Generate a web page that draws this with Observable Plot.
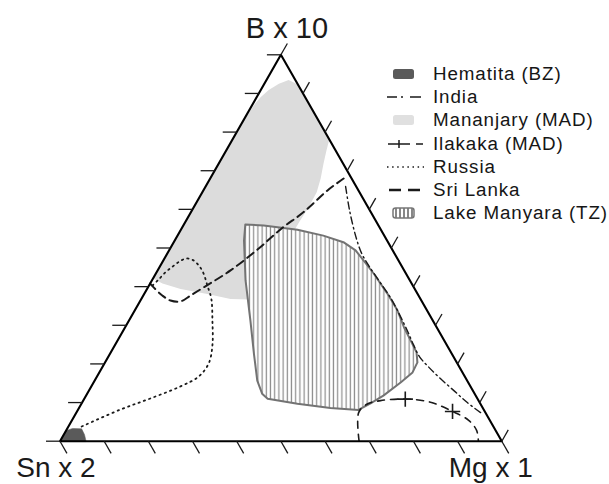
<!DOCTYPE html>
<html>
<head>
<meta charset="utf-8">
<script src="https://cdn.jsdelivr.net/npm/d3@7"></script>
<script src="https://cdn.jsdelivr.net/npm/@observablehq/plot@0.6"></script>
<style>
  html, body { margin: 0; padding: 0; background: #fff; }
  #chart { position: relative; width: 609px; height: 484px; font-family: "Liberation Sans", Arial, sans-serif; }
  #legend { position: absolute; left: 386px; top: 62px; }
  .row { display: flex; align-items: center; height: 23.3px; }
  .row svg { width: 38px; height: 16px; margin-right: 9px; flex: none; }
  .row span { font-size: 18.8px; letter-spacing: 0.9px; color: #161616; white-space: nowrap; }
</style>
</head>
<body>
<div id="chart"><div id="legend"></div></div>
<script>
// Compositions are [Sn x 2, B x 10, Mg x 1] in percent (each row sums to 100).
const vertexLabels = ["Sn x 2", "B x 10", "Mg x 1"];
const tickSteps = [0, 10, 20, 30, 40, 50, 60, 70, 80, 90, 100];

const hematita = [
  [100, 0, 0], [97.1, 2.8, 0.1], [95.5, 3.3, 1.2], [93.5, 3.2, 3.3], [93.6, 1.7, 4.7], [94.1, 0, 5.9]
];

const mananjary = [
  [1.5, 93.5, 5.0], [0, 92.3, 7.7], [0, 78.1, 21.9], [2.1, 75.2, 22.7], [4.4, 71.9, 23.7],
  [7.0, 68.0, 25.0], [9.7, 64.4, 25.9], [13.5, 60.5, 26.0], [17.3, 56.9, 25.8], [23.7, 50.6, 25.7],
  [32.0, 42.9, 25.1], [38.5, 36.7, 24.8], [43.0, 36.8, 20.2], [47.6, 38.1, 14.3], [53.0, 39.4, 7.6],
  [56.4, 40.8, 2.8], [57.9, 42.1, 0], [17.0, 83.0, 0], [15.5, 84.3, 0.2], [12.7, 86.9, 0.4],
  [10.1, 89.0, 0.9], [7.3, 90.9, 1.8], [4.2, 92.5, 3.3]
];

const lakeManyara = [
  [30.0, 56.1, 13.9], [26.0, 55.8, 18.2], [18.9, 54.7, 26.4], [13.8, 53.2, 33.0], [10.1, 51.5, 38.4],
  [8.4, 49.4, 42.2], [7.9, 46.8, 45.3], [7.3, 43.4, 49.3], [6.8, 38.2, 55.0], [6.7, 33.8, 59.5],
  [7.4, 29.5, 63.1], [7.6, 26.1, 66.3], [7.8, 23.0, 69.2], [8.9, 20.4, 70.7], [11.3, 17.8, 70.9],
  [15.3, 15.2, 69.5], [20.9, 11.8, 67.3], [24.8, 9.8, 65.4], [28.4, 8.1, 63.5], [34.5, 8.6, 56.9],
  [41.4, 9.7, 48.9], [47.5, 11.0, 41.5], [48.1, 12.3, 39.6], [47.5, 15.7, 36.8], [44.8, 22.6, 32.6],
  [41.3, 31.2, 27.5], [37.2, 41.6, 21.2], [32.4, 51.9, 15.7]
];

const india = [
  [2.4, 65.9, 31.7], [4.6, 59.7, 35.7], [6.5, 53.2, 40.3], [7.4, 48.8, 43.8], [7.4, 45.5, 47.1],
  [7.0, 41.3, 51.7], [6.6, 36.7, 56.7], [6.8, 32.3, 60.9], [7.1, 28.4, 64.5], [7.5, 25.0, 67.5],
  [7.7, 21.9, 70.4], [7.0, 19.3, 73.7], [5.8, 16.2, 78.0], [4.2, 12.9, 82.9], [2.8, 10.0, 87.2],
  [1.1, 7.4, 91.5]
];

const ilakaka = [
  [32.3, 0, 67.7], [28.7, 7.4, 63.9], [25.9, 9.5, 64.6], [22.2, 10.5, 67.3], [16.4, 10.9, 72.7],
  [11.1, 10.1, 78.8], [7.3, 7.7, 85.0], [4.8, 5.4, 89.8], [4.3, 2.8, 92.9], [5.3, 0, 94.7]
];
const ilakakaCrosses = [[16.4, 10.9, 72.7], [7.3, 7.7, 85.0]];

const russia = [
  [93.2, 3.8, 3.0], [82.2, 8.2, 9.6], [73.9, 11.1, 15.0], [65.6, 14.2, 20.2], [60.3, 16.7, 23.0],
  [56.3, 20.1, 23.6], [53.1, 24.8, 22.1], [49.9, 31.2, 18.9], [47.3, 36.9, 15.8], [46.5, 40.3, 13.2],
  [45.8, 43.4, 10.8], [45.8, 45.2, 9.0], [46.4, 46.8, 6.8], [47.7, 47.3, 5.0], [49.7, 46.5, 3.8],
  [51.9, 45.2, 2.9], [54.3, 43.7, 2.0], [56.8, 41.8, 1.4], [58.9, 40.3, 0.8]
];

const sriLanka = [
  [1.8, 68.0, 30.2], [7.0, 64.9, 28.1], [15.2, 59.3, 25.5], [22.4, 55.0, 22.6], [30.5, 49.6, 19.9],
  [39.3, 44.2, 16.5], [47.6, 39.8, 12.6], [51.6, 37.7, 10.7], [54.6, 36.2, 9.2], [56.8, 36.4, 6.8],
  [58.0, 37.7, 4.3], [58.9, 39.8, 1.3], [59.2, 40.8, 0]
];

// Ternary -> cartesian: x runs from the Sn corner (0) to the Mg corner (1), y is the B share.
const X = d => (d[2] + d[1] / 2) / 100;
const Y = d => d[1] / 100;

// Pixel extent of the triangle on the page.
const xRange = [59.5, 501.3];
const yRange = [440.7, 54.3];
const W = xRange[1] - xRange[0];
const H = yRange[0] - yRange[1];
const slant = Math.hypot(W / 2, H);

// Outward tick directions, expressed in data units for a given pixel length.
function ticksFor(side, len) {
  return tickSteps.map(t => {
    let p, dx, dy;
    if (side === "left") {        // Sn–B edge, ticks parallel to the base, pointing left
      p = [100 - t, t, 0]; dx = -len / W; dy = 0;
    } else if (side === "right") { // B–Mg edge, ticks parallel to Sn→B
      p = [0, t, 100 - t]; dx = 0.5 * len / slant; dy = len / slant;
    } else {                       // Sn–Mg base, ticks parallel to B→Mg
      p = [100 - t, 0, t]; dx = 0.5 * len / slant; dy = -len / slant;
    }
    const x1 = X(p), y1 = Y(p);
    return {x1, y1, x2: x1 + dx, y2: y1 + dy};
  });
}
const ticks = [...ticksFor("left", 14), ...ticksFor("right", 13), ...ticksFor("bottom", 14)];

const corners = [[100, 0, 0], [0, 100, 0], [0, 0, 100]];
const font = "Liberation Sans, Arial, sans-serif";
const ink = "#1a1a1a";

const svg = Plot.plot({
  width: 609,
  height: 484,
  margin: 0,
  x: {domain: [0, 1], range: xRange, axis: null},
  y: {domain: [0, 1], range: yRange, axis: null},
  marks: [
    Plot.line(mananjary, {x: X, y: Y, curve: "linear-closed", fill: "#dcdcdc", stroke: "none"}),
    Plot.line(hematita, {x: X, y: Y, curve: "linear-closed", fill: "#5a5a5a", stroke: "#5a5a5a", strokeWidth: 0.5}),
    Plot.line(lakeManyara, {x: X, y: Y, curve: "linear-closed", fill: "url(#vhatch)", stroke: "#737373", strokeWidth: 2}),
    Plot.line(russia, {x: X, y: Y, curve: "catmull-rom", stroke: ink, strokeWidth: 1.8, strokeDasharray: "1.4,4.2", strokeLinecap: "round"}),
    Plot.line(sriLanka, {x: X, y: Y, curve: "catmull-rom", stroke: ink, strokeWidth: 2, strokeDasharray: "8,5"}),
    Plot.line(india, {x: X, y: Y, curve: "catmull-rom", stroke: ink, strokeWidth: 1.4, strokeDasharray: "7,3.5,1.5,3.5"}),
    Plot.line(ilakaka, {x: X, y: Y, curve: "catmull-rom", stroke: ink, strokeWidth: 1.6, strokeDasharray: "7,6"}),
    Plot.dot(ilakakaCrosses, {x: X, y: Y, symbol: "plus", r: 5, stroke: ink, strokeWidth: 1.6}),
    Plot.line(corners, {x: X, y: Y, curve: "linear-closed", stroke: "#000", strokeWidth: 2.1, fill: "none"}),
    Plot.link(ticks, {x1: "x1", y1: "y1", x2: "x2", y2: "y2", stroke: ink, strokeWidth: 1.3}),
    Plot.text([{p: corners[1], label: vertexLabels[1]}], {x: d => X(d.p), y: d => Y(d.p), text: "label", dx: 6, dy: -17, lineAnchor: "bottom", fontSize: 29, fontFamily: font, fill: ink}),
    Plot.text([{p: corners[0], label: vertexLabels[0]}], {x: d => X(d.p), y: d => Y(d.p), text: "label", dx: -4, dy: 36, lineAnchor: "bottom", fontSize: 28, fontFamily: font, fill: ink}),
    Plot.text([{p: corners[2], label: vertexLabels[2]}], {x: d => X(d.p), y: d => Y(d.p), text: "label", dx: -11, dy: 36, lineAnchor: "bottom", fontSize: 28, fontFamily: font, fill: ink})
  ]
});

// Vertical hatch used for the Lake Manyara field.
const defs = document.createElementNS("http://www.w3.org/2000/svg", "defs");
defs.innerHTML =
  '<pattern id="vhatch" patternUnits="userSpaceOnUse" width="4.2" height="10">' +
  '<rect width="4.2" height="10" fill="#fff"/>' +
  '<line x1="1.2" y1="0" x2="1.2" y2="10" stroke="#8a8a8a" stroke-width="1.2"/></pattern>' +
  '<pattern id="vhatchKey" patternUnits="userSpaceOnUse" width="4" height="10">' +
  '<rect width="4" height="10" fill="#fff"/>' +
  '<line x1="2" y1="0" x2="2" y2="10" stroke="#555" stroke-width="1.4"/></pattern>';
svg.prepend(defs);
document.getElementById("chart").prepend(svg);

// Legend
const legendItems = [
  {label: "Hematita (BZ)", key: '<rect x="7" y="3" width="21" height="10" rx="2.5" fill="#5a5a5a"/>'},
  {label: "India", key: '<path d="M1,8H11M15,8H17M24,8H35" stroke="#1a1a1a" stroke-width="1.5" fill="none"/>'},
  {label: "Mananjary (MAD)", key: '<rect x="7" y="3" width="21" height="10" rx="2.5" fill="#e0e0e0"/>'},
  {label: "Ilakaka (MAD)", key: '<path d="M2,8H24M13,4V12M30,8H37" stroke="#1a1a1a" stroke-width="1.5" fill="none"/>'},
  {label: "Russia", key: '<path d="M1,8H38" stroke="#1a1a1a" stroke-width="1.5" stroke-dasharray="1.5,3.6" fill="none"/>'},
  {label: "Sri Lanka", key: '<path d="M3,8H15M22,8H34" stroke="#1a1a1a" stroke-width="2.6" fill="none"/>'},
  {label: "Lake Manyara (TZ)", key: '<rect x="7" y="3" width="21" height="10" rx="2.5" fill="url(#vhatchKey)" stroke="#777" stroke-width="1.5"/>'}
];
const legend = document.getElementById("legend");
for (const item of legendItems) {
  const row = document.createElement("div");
  row.className = "row";
  row.innerHTML = `<svg viewBox="0 0 38 16">${item.key}</svg><span>${item.label}</span>`;
  legend.appendChild(row);
}
</script>
</body>
</html>
